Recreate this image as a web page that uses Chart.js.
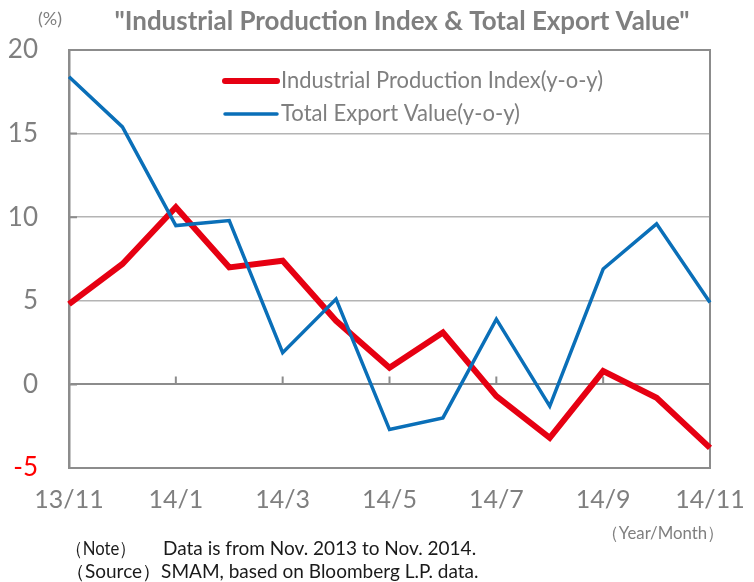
<!DOCTYPE html>
<html>
<head>
<meta charset="utf-8">
<script src="https://cdn.jsdelivr.net/npm/chart.js@4"></script>
<style>
  html, body { margin: 0; padding: 0; background: #fff; }
  #wrap { width: 754px; height: 582px; position: relative; }
</style>
</head>
<body>
<div id="wrap"><canvas id="ipChart"></canvas></div>
<script>
// month labels (year/month)
const months = ["13/11", "13/12", "14/1", "14/2", "14/3", "14/4", "14/5", "14/6", "14/7", "14/8", "14/9", "14/10", "14/11"];
// y-o-y %
const industrialProduction = [4.8, 7.2, 10.6, 7.0, 7.4, 3.8, 1.0, 3.1, -0.7, -3.2, 0.8, -0.8, -3.8];
const exportValue = [18.4, 15.4, 9.5, 9.8, 1.9, 5.1, -2.7, -2.0, 3.9, -1.3, 6.9, 9.6, 4.9];
const seriesNames = ["Industrial Production Index(y-o-y)", "Total Export Value(y-o-y)"];

const FONT = 'Lato, "Open Sans", sans-serif';
const GREY = "#7f7f7f";
const RED = "#e60012";
const BLUE = "#0a6fb8";

// extra drawing: box, zero-line ticks, legend, title and notes
const decorations = {
    id: "decorations",
    beforeDatasetsDraw(chart) {
        const { ctx, chartArea: a, scales } = chart;
        const y0 = scales.y.getPixelForValue(0);
        ctx.save();
        ctx.strokeStyle = "#8c8c8c";
        ctx.lineWidth = 2;
        // top and right sides of the box
        ctx.beginPath();
        ctx.moveTo(a.left, a.top);
        ctx.lineTo(a.right, a.top);
        ctx.lineTo(a.right, a.bottom);
        ctx.stroke();
        // small ticks on the zero line
        ctx.beginPath();
        months.forEach((m, i) => {
            if (i > 0 && i % 2 === 0 && i < months.length - 1) {
                const x = scales.x.getPixelForValue(i);
                ctx.moveTo(x, y0);
                ctx.lineTo(x, y0 - 8);
            }
        });
        // inner ticks on the y axis
        [0, 5, 10, 15].forEach(v => {
            const y = scales.y.getPixelForValue(v);
            ctx.moveTo(a.left, y);
            ctx.lineTo(a.left + 8, y);
        });
        ctx.stroke();
        ctx.restore();
    },
    afterDraw(chart) {
        const { ctx } = chart;
        ctx.save();
        // legend
        const items = [
            { color: RED, width: 6, y: 81, text: seriesNames[0], w: 322 },
            { color: BLUE, width: 3.5, y: 114, text: seriesNames[1], w: 239 }
        ];
        items.forEach(it => {
            ctx.strokeStyle = it.color;
            ctx.lineWidth = it.width;
            ctx.lineCap = "round";
            ctx.beginPath();
            ctx.moveTo(225, it.y);
            ctx.lineTo(277, it.y);
            ctx.stroke();
            ctx.fillStyle = GREY;
            ctx.font = "23px " + FONT;
            ctx.textAlign = "left";
            ctx.textBaseline = "middle";
            ctx.fillText(it.text, 281, it.y, it.w);
        });
        // title
        ctx.fillStyle = GREY;
        ctx.textAlign = "center";
        ctx.font = "bold 26px " + FONT;
        ctx.fillText('"Industrial Production Index & Total Export Value"', 402, 22, 575);
        ctx.font = "18px " + FONT;
        ctx.fillText("(%)", 50, 19);
        ctx.fillText("（Year/Month）", 663, 533, 122);
        // notes
        ctx.fillStyle = "#1a1a1a";
        ctx.textAlign = "left";
        ctx.font = "19px " + FONT;
        ctx.fillText("（Note）", 66, 549, 70);
        ctx.fillText("Data is from Nov. 2013 to Nov. 2014.", 163, 549, 322);
        ctx.fillText("（Source）SMAM, based on Bloomberg L.P. data.", 66, 572, 432);
        ctx.restore();
    }
};

new Chart(document.getElementById("ipChart").getContext("2d"), {
    type: "line",
    data: {
        labels: months,
        datasets: [
            { label: seriesNames[1], data: exportValue, borderColor: BLUE, borderWidth: 3.5, pointRadius: 0, tension: 0, borderJoinStyle: "miter", fill: false },
            { label: seriesNames[0], data: industrialProduction, borderColor: RED, borderWidth: 6, pointRadius: 0, tension: 0, borderJoinStyle: "miter", fill: false }
        ]
    },
    options: {
        responsive: true,
        maintainAspectRatio: false,
        animation: false,
        layout: { padding: { top: 50, right: 44, left: 0, bottom: 0 } },
        plugins: { legend: { display: false }, tooltip: { enabled: false }, title: { display: false } },
        scales: {
            x: {
                offset: false,
                grid: { display: false, drawTicks: false },
                border: { display: true, color: "#8c8c8c", width: 2 },
                ticks: {
                    autoSkip: false,
                    maxRotation: 0,
                    padding: 17,
                    color: GREY,
                    font: { family: FONT, size: 25 },
                    callback: (v, i) => (i % 2 === 0 ? months[i] : "")
                },
                afterFit: s => { s.height = 114; s.paddingLeft = 0; s.paddingRight = 0; }
            },
            y: {
                min: -5,
                max: 20,
                ticks: {
                    stepSize: 5,
                    padding: 31,
                    color: c => (c.tick.value < 0 ? "#ff0000" : GREY),
                    font: { family: FONT, size: 26 }
                },
                grid: {
                    drawTicks: false,
                    color: c => (c.tick.value === 0 ? "#8c8c8c" : "#b4b4b4"),
                    lineWidth: c => (c.tick.value === 0 ? 2 : 1.5)
                },
                border: { display: true, color: "#8c8c8c", width: 2.5 },
                afterFit: s => { s.width = 69; s.paddingTop = 0; s.paddingBottom = 0; }
            }
        }
    },
    plugins: [decorations]
});
</script>
</body>
</html>
